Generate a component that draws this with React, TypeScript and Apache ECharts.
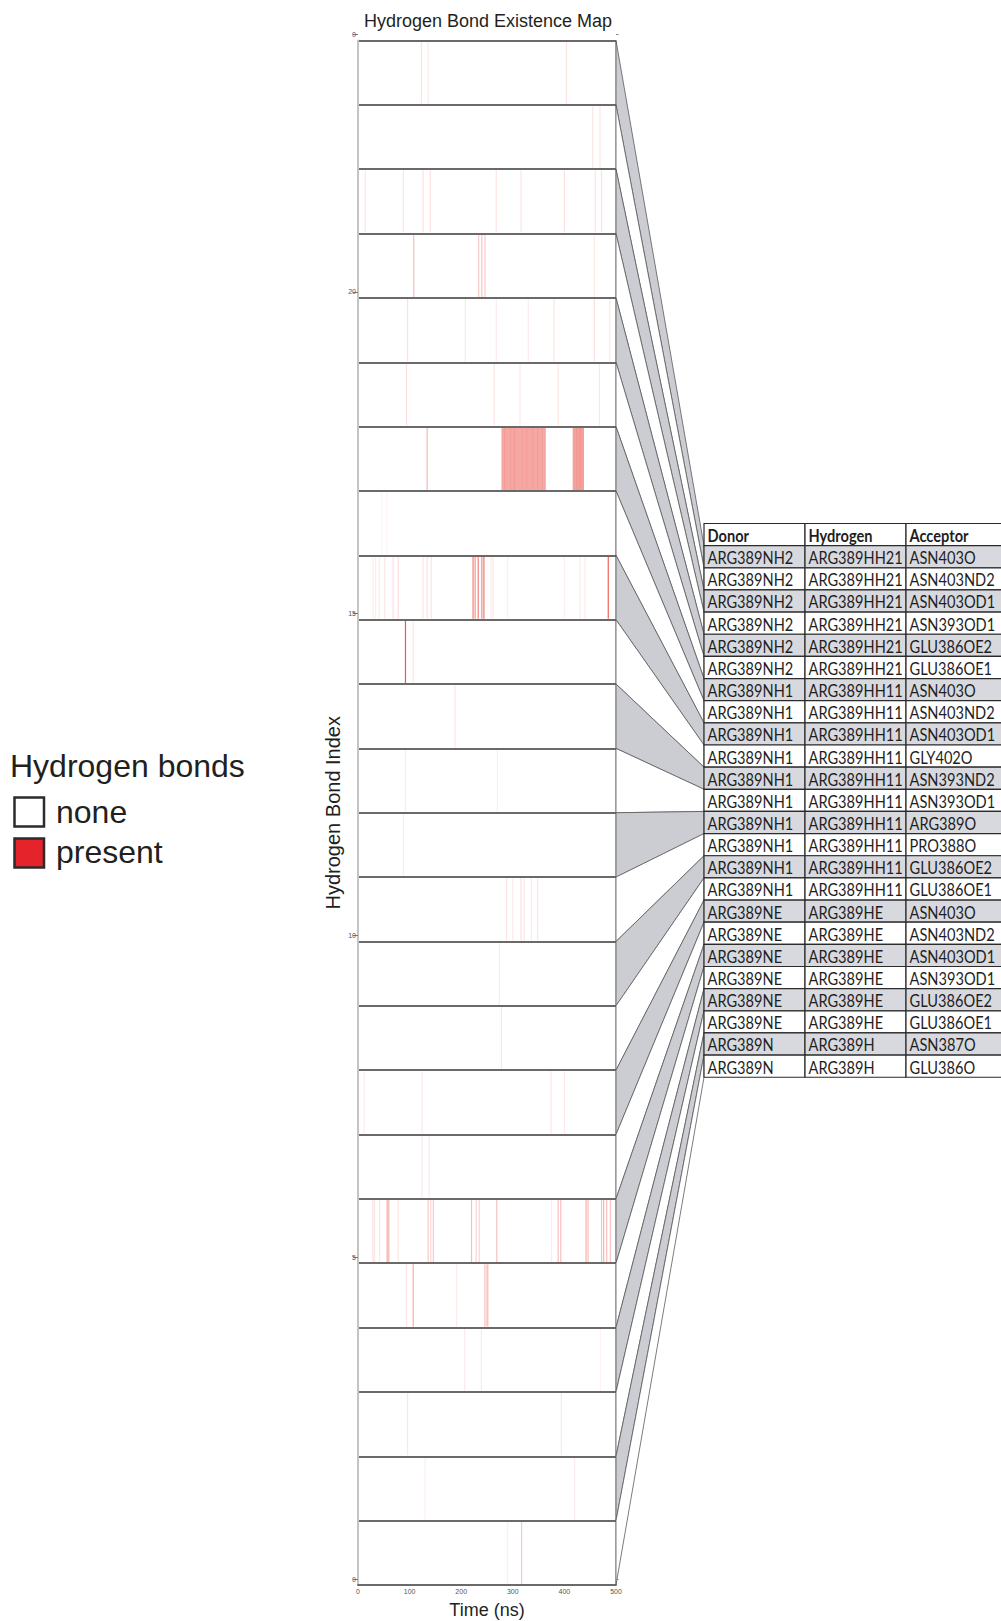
import React, { useEffect, useRef } from "react";
import * as echarts from "echarts";

// ---- data -------------------------------------------------------------

const TITLE = "Hydrogen Bond Existence Map";

const donors = [
  "ARG389NH2", "ARG389NH2", "ARG389NH2", "ARG389NH2", "ARG389NH2", "ARG389NH2",
  "ARG389NH1", "ARG389NH1", "ARG389NH1", "ARG389NH1", "ARG389NH1", "ARG389NH1",
  "ARG389NH1", "ARG389NH1", "ARG389NH1", "ARG389NH1",
  "ARG389NE", "ARG389NE", "ARG389NE", "ARG389NE", "ARG389NE", "ARG389NE",
  "ARG389N", "ARG389N",
];

const hydrogens = [
  "ARG389HH21", "ARG389HH21", "ARG389HH21", "ARG389HH21", "ARG389HH21", "ARG389HH21",
  "ARG389HH11", "ARG389HH11", "ARG389HH11", "ARG389HH11", "ARG389HH11", "ARG389HH11",
  "ARG389HH11", "ARG389HH11", "ARG389HH11", "ARG389HH11",
  "ARG389HE", "ARG389HE", "ARG389HE", "ARG389HE", "ARG389HE", "ARG389HE",
  "ARG389H", "ARG389H",
];

const acceptors = [
  "ASN403O", "ASN403ND2", "ASN403OD1", "ASN393OD1", "GLU386OE2", "GLU386OE1",
  "ASN403O", "ASN403ND2", "ASN403OD1", "GLY402O", "ASN393ND2", "ASN393OD1",
  "ARG389O", "PRO388O", "GLU386OE2", "GLU386OE1",
  "ASN403O", "ASN403ND2", "ASN403OD1", "ASN393OD1", "GLU386OE2", "GLU386OE1",
  "ASN387O", "GLU386O",
];

const TABLE_HEADER = ["Donor", "Hydrogen", "Acceptor"];

// single-frame bond events: [row (1 = top), time (ns), opacity]
const bondLines = [
  [1, 123, 0.12], [1, 136, 0.1], [1, 404, 0.12],
  [2, 455, 0.12], [2, 469, 0.12],
  [3, 14, 0.12], [3, 88, 0.12], [3, 126, 0.15], [3, 140, 0.15], [3, 268, 0.12],
  [3, 316, 0.12], [3, 400, 0.15], [3, 460, 0.12], [3, 472, 0.15],
  [4, 108, 0.3], [4, 234, 0.25], [4, 240, 0.3], [4, 246, 0.25], [4, 458, 0.1],
  [5, 96, 0.15], [5, 208, 0.12], [5, 268, 0.1], [5, 330, 0.1], [5, 380, 0.12],
  [5, 458, 0.15], [5, 488, 0.12],
  [6, 94, 0.15], [6, 264, 0.12], [6, 314, 0.1], [6, 388, 0.12], [6, 468, 0.12],
  [7, 134, 0.35],
  [7, 284, 0.1], [7, 296, 0.08], [7, 303, 0.12], [7, 318, 0.08], [7, 327, 0.1],
  [7, 339, 0.08], [7, 348, 0.1], [7, 357, 0.08], [7, 424, 0.08], [7, 431, 0.1],
  [8, 46, 0.05], [8, 56, 0.06],
  [9, 29, 0.1], [9, 34, 0.1], [9, 41, 0.1], [9, 52, 0.12], [9, 68, 0.15], [9, 78, 0.15],
  [9, 126, 0.12], [9, 134, 0.15], [9, 142, 0.12],
  [9, 223, 0.6], [9, 227, 0.5], [9, 233, 0.6], [9, 240, 0.55], [9, 244, 0.65],
  [9, 258, 0.1], [9, 262, 0.1], [9, 290, 0.08], [9, 400, 0.08], [9, 430, 0.1],
  [9, 440, 0.1], [9, 485, 0.75],
  [10, 92, 0.8], [10, 107, 0.12],
  [11, 188, 0.12],
  [12, 92, 0.1], [12, 270, 0.08],
  [13, 88, 0.1],
  [14, 288, 0.12], [14, 300, 0.1], [14, 316, 0.15], [14, 322, 0.12], [14, 336, 0.1], [14, 348, 0.12],
  [15, 274, 0.1],
  [16, 278, 0.12],
  [17, 12, 0.1], [17, 124, 0.1], [17, 374, 0.12], [17, 400, 0.1],
  [18, 124, 0.1], [18, 138, 0.1],
  [19, 29, 0.15], [19, 32, 0.12], [19, 42, 0.12], [19, 78, 0.12], [19, 136, 0.25],
  [19, 141, 0.2], [19, 146, 0.25], [19, 220, 0.3], [19, 229, 0.2], [19, 235, 0.2],
  [19, 269, 0.3], [19, 375, 0.1], [19, 388, 0.3], [19, 393, 0.3], [19, 446, 0.3],
  [19, 472, 0.3], [19, 476, 0.35], [19, 482, 0.3], [19, 489, 0.3],
  [20, 94, 0.12], [20, 107, 0.4], [20, 191, 0.1], [20, 246, 0.3], [20, 250, 0.3], [20, 252, 0.2],
  [21, 207, 0.1], [21, 239, 0.1], [21, 470, 0.06],
  [22, 96, 0.12], [22, 394, 0.12],
  [23, 130, 0.08], [23, 420, 0.1],
  [24, 290, 0.08], [24, 317, 0.25],
];

// sustained bond events: [row (1 = top), start (ns), end (ns), opacity]
const bondBlocks = [
  [7, 278, 364, 0.42], [7, 416, 438, 0.46],
  [19, 55, 61, 0.3], [19, 441, 443, 0.45],
];

// ---- layout -----------------------------------------------------------

const FONT = "Liberation Sans, Arial, sans-serif";
const TABLE_FONT = "Lato, Noto Sans, sans-serif";
const GRID = { left: 358, top: 40.5, width: 258, height: 1544.5 };
const TABLE_X = 704;
const TABLE_Y = 523.5;
const ROW_H = 22.15;
const COL_W = 101;
const BAND_GRAY = "#cbcdd2";
const ROW_GRAY = "#d7d9de";
const RED = "232,48,36";

export default function App() {
  const ref = useRef<HTMLDivElement>(null);

  useEffect(() => {
    if (!ref.current) return;
    const chart = echarts.init(ref.current, null, { renderer: "svg" });
    const N = donors.length;

    const option: any = {
      animation: false,
      backgroundColor: "#ffffff",
      title: {
        text: TITLE,
        left: 488,
        top: 12,
        padding: 0,
        textAlign: "center",
        textStyle: { fontFamily: FONT, fontSize: 18, fontWeight: "normal", color: "#231f20" },
      },
      grid: [
        {
          ...GRID,
          outerBoundsMode: "none",
          containLabel: false,
          show: true,
          borderColor: "#8a8a8a",
          borderWidth: 1,
          backgroundColor: "#fff",
        },
        {
          left: GRID.left,
          top: 34.5,
          width: GRID.width,
          height: GRID.height,
          outerBoundsMode: "none",
          containLabel: false,
          show: false,
        },
      ],
      xAxis: [
        {
          type: "value",
          gridIndex: 0,
          min: 0,
          max: 500,
          interval: 100,
          name: "Time (ns)",
          nameLocation: "middle",
          nameGap: 16,
          nameTextStyle: { fontFamily: FONT, fontSize: 18, color: "#231f20", lineHeight: 18 },
          axisLine: { show: true, lineStyle: { color: "#6a6a6a", width: 1.8 } },
          axisTick: { show: false },
          axisLabel: { fontFamily: FONT, fontSize: 7, color: "#555", margin: 3 },
          splitLine: { show: false },
        },
        { type: "value", gridIndex: 1, min: 0, max: 1, show: false },
      ],
      yAxis: [
        {
          type: "value",
          gridIndex: 0,
          min: 0,
          max: N,
          interval: 1,
          name: "Hydrogen Bond Index",
          nameLocation: "middle",
          nameGap: 15,
          nameTextStyle: { fontFamily: FONT, fontSize: 20, color: "#231f20" },
          axisLine: { show: true, lineStyle: { color: "#c4c4c4", width: 2 } },
          axisTick: { show: false },
          axisLabel: { show: false },
          splitLine: { show: true, lineStyle: { color: "#6a6a6a", width: 1.8 } },
        },
        {
          type: "value",
          gridIndex: 1,
          min: 0,
          max: N,
          interval: 5,
          axisLine: { show: false },
          axisTick: { show: true, length: 5, lineStyle: { color: "#777", width: 1 } },
          // the index wraps at the top of the axis
          axisLabel: {
            fontFamily: FONT,
            fontSize: 7,
            color: "#555",
            margin: 2,
            formatter: (v: number) => String(v % N),
          },
          splitLine: { show: false },
        },
        {
          type: "value",
          gridIndex: 1,
          min: 0,
          max: N,
          interval: 1,
          axisLine: { show: false },
          axisTick: { show: true, length: 2.5, lineStyle: { color: "#888", width: 1 } },
          axisLabel: { show: false },
          splitLine: { show: false },
        },
      ],
      series: [
        {
          type: "custom",
          name: "sustained",
          xAxisIndex: 0,
          yAxisIndex: 0,
          clip: true,
          data: bondBlocks,
          renderItem: (_p: any, api: any) => {
            const row = api.value(0);
            const a = api.coord([api.value(1), N - row + 1]);
            const b = api.coord([api.value(2), N - row]);
            return {
              type: "rect",
              shape: { x: a[0], y: a[1] + 1, width: b[0] - a[0], height: b[1] - a[1] - 2 },
              style: { fill: `rgba(${RED},${api.value(3)})` },
            };
          },
        },
        {
          type: "custom",
          name: "frames",
          xAxisIndex: 0,
          yAxisIndex: 0,
          clip: true,
          data: bondLines,
          renderItem: (_p: any, api: any) => {
            const row = api.value(0);
            const a = api.coord([api.value(1), N - row + 1]);
            const b = api.coord([api.value(1), N - row]);
            return {
              type: "rect",
              shape: { x: a[0] - 0.6, y: a[1] + 1, width: 1.2, height: b[1] - a[1] - 2 },
              style: { fill: `rgba(${RED},${api.value(2)})` },
            };
          },
        },
      ],
    };
    chart.setOption(option);

    // connectors from each plot row to its table row, then the table itself
    const graphics: any[] = [];
    const px = (v: number) => chart.convertToPixel({ xAxisIndex: 0, yAxisIndex: 0 }, [500, v]) as number[];
    const plotRight = px(N)[0];
    for (let k = 0; k < N; k++) {
      const yTop = px(N - k)[1];
      const yBot = px(N - k - 1)[1];
      const tTop = TABLE_Y + ROW_H * (k + 1);
      const tBot = tTop + ROW_H;
      graphics.push({
        type: "polygon",
        z: 10,
        shape: { points: [[plotRight, yTop], [TABLE_X, tTop], [TABLE_X, tBot], [plotRight, yBot]] },
        style: { fill: k % 2 === 0 ? BAND_GRAY : "#ffffff", stroke: "#5a5a5a", lineWidth: 0.8 },
      });
    }

    const rows = [TABLE_HEADER, ...donors.map((d, i) => [d, hydrogens[i], acceptors[i]])];
    rows.forEach((cells, r) => {
      const y = TABLE_Y + r * ROW_H;
      cells.forEach((txt, c) => {
        const x = TABLE_X + c * COL_W;
        graphics.push({
          type: "rect",
          z: 20,
          shape: { x, y, width: COL_W, height: ROW_H },
          style: { fill: r > 0 && (r - 1) % 2 === 0 ? ROW_GRAY : "#ffffff", stroke: "#2b2b2b", lineWidth: 1.2 },
        });
        graphics.push({
          type: "text",
          z: 30,
          x: x + 3.5,
          y: y + ROW_H / 2 + 0.5,
          scaleX: 0.86,
          style: {
            text: txt,
            fontFamily: TABLE_FONT,
            fontSize: 17,
            fontWeight: r === 0 ? "bold" : "normal",
            fill: "#1e1e1e",
            verticalAlign: "middle",
            align: "left",
          },
        });
      });
    });

    // legend
    graphics.push(
      {
        type: "text",
        z: 30,
        x: 10,
        y: 766,
        style: { text: "Hydrogen bonds", fontFamily: FONT, fontSize: 32, fill: "#231f20", verticalAlign: "middle" },
      },
      {
        type: "rect",
        z: 30,
        shape: { x: 14.5, y: 797.5, width: 29.5, height: 29 },
        style: { fill: "#ffffff", stroke: "#2b2b2b", lineWidth: 2.5 },
      },
      {
        type: "text",
        z: 30,
        x: 56,
        y: 812,
        style: { text: "none", fontFamily: FONT, fontSize: 32, fill: "#231f20", verticalAlign: "middle" },
      },
      {
        type: "rect",
        z: 30,
        shape: { x: 14.5, y: 838.5, width: 29.5, height: 29 },
        style: { fill: "#e5232a", stroke: "#2b2b2b", lineWidth: 2.5 },
      },
      {
        type: "text",
        z: 30,
        x: 56,
        y: 852,
        style: { text: "present", fontFamily: FONT, fontSize: 32, fill: "#231f20", verticalAlign: "middle" },
      }
    );

    chart.setOption({ graphic: graphics });
    return () => chart.dispose();
  }, []);

  return (
    <div
      ref={ref}
      style={{ position: "absolute", left: 0, top: 0, width: 1001, height: 1621, background: "#fff" }}
    />
  );
}
